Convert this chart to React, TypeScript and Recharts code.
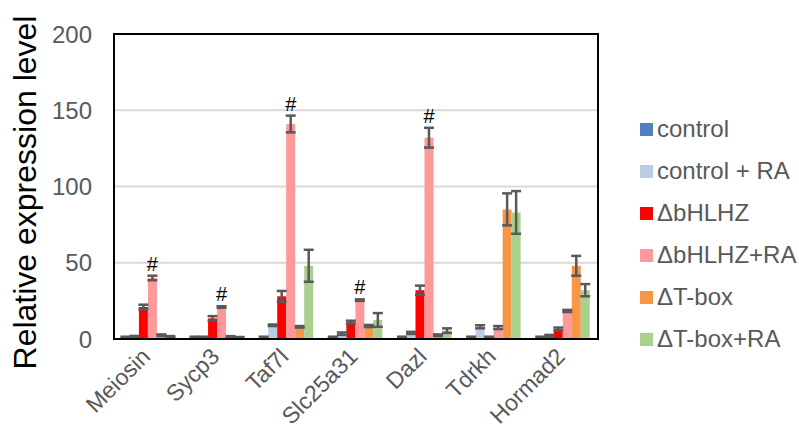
import {
  BarChart,
  Bar,
  XAxis,
  YAxis,
  CartesianGrid,
  ErrorBar,
  LabelList,
  ReferenceArea,
} from "recharts";

const genes = ["Meiosin", "Sycp3", "Taf7l", "Slc25a31", "Dazl", "Tdrkh", "Hormad2"];

// mean expression per condition, one value per gene
const control = [1, 1, 1, 1, 1, 1, 1];
const controlRA = [1.5, 1, 9, 3.5, 4, 8, 2];
const bhlhz = [21, 13.5, 28, 11, 32, 1, 6.5];
const bhlhzRA = [40, 21, 141, 25.5, 132, 7.5, 18.4];
const tbox = [2.5, 1.5, 8, 8.5, 2.5, 85, 48];
const tboxRA = [1.5, 1, 48, 12.5, 5.5, 83, 32];

// error (SD) per condition
const controlErr = [0.5, 0.5, 0.5, 0.5, 0.5, 0.5, 0.5];
const controlRAErr = [0.5, 0.5, 0.5, 0.8, 0.7, 1, 0.7];
const bhlhzErr = [1.5, 1.5, 3.5, 1, 3, 0.5, 1];
const bhlhzRAErr = [1.5, 0.5, 5.5, 0.5, 6.5, 1, 0.7];
const tboxErr = [0.5, 0.4, 0.5, 0.7, 0.5, 10.5, 6.5];
const tboxRAErr = [0.4, 0.3, 10.5, 4.5, 1.5, 14, 4];

// "#" marks on the ΔbHLHZ+RA bars
const significant = [true, true, true, true, true, false, false];

const yTicks = [0, 50, 100, 150, 200];

const series = [
  { key: "control", name: "control", color: "#4f81bd" },
  { key: "controlRA", name: "control + RA", color: "#b9cde5" },
  { key: "bhlhz", name: "ΔbHLHZ", color: "#ff0000" },
  { key: "bhlhzRA", name: "ΔbHLHZ+RA", color: "#ff9999" },
  { key: "tbox", name: "ΔT-box", color: "#f79646" },
  { key: "tboxRA", name: "ΔT-box+RA", color: "#a9d18e" },
];

const data = genes.map((gene, i) => ({
  gene,
  control: control[i],
  controlErr: controlErr[i],
  controlRA: controlRA[i],
  controlRAErr: controlRAErr[i],
  bhlhz: bhlhz[i],
  bhlhzErr: bhlhzErr[i],
  bhlhzRA: bhlhzRA[i],
  bhlhzRAErr: bhlhzRAErr[i],
  tbox: tbox[i],
  tboxErr: tboxErr[i],
  tboxRA: tboxRA[i],
  tboxRAErr: tboxRAErr[i],
}));

const FONT = "'Liberation Sans', Arial, sans-serif";
const GREY = "#595959";

function GeneTick(props: any) {
  const { x, y, payload } = props;
  const tx = x + 3;
  const ty = y + 11;
  return (
    <text
      x={tx}
      y={ty}
      transform={`rotate(-45, ${tx}, ${ty})`}
      textAnchor="end"
      fill={GREY}
      fontSize={23}
      fontFamily={FONT}
    >
      {payload.value}
    </text>
  );
}

function SigMark(props: any) {
  const { x, y, width, height, value, index } = props;
  if (!significant[index] || !value) return null;
  const err = bhlhzRAErr[index];
  const capY = y - (err * height) / value;
  return (
    <text
      x={x + width / 2}
      y={capY - 5}
      textAnchor="middle"
      fill="#000"
      fontSize={20}
      fontFamily={FONT}
    >
      #
    </text>
  );
}

function YTitle(props: any) {
  const { viewBox } = props;
  const cx = viewBox.x - 29;
  const cy = viewBox.y + viewBox.height / 2 + 6;
  return (
    <text
      x={cx}
      y={cy}
      transform={`rotate(-90, ${cx}, ${cy})`}
      textAnchor="middle"
      dominantBaseline="central"
      fill="#000"
      fontSize={32}
      fontFamily={FONT}
    >
      Relative expression level
    </text>
  );
}

function LegendList() {
  return (
    <div style={{ fontFamily: FONT }}>
      {series.map((s) => (
        <div
          key={s.key}
          style={{ display: "flex", alignItems: "center", height: 42 }}
        >
          <span
            style={{
              display: "inline-block",
              width: 13,
              height: 13,
              background: s.color,
              marginRight: 4,
            }}
          />
          <span style={{ fontSize: 24, color: GREY, whiteSpace: "pre" }}>
            {s.name}
          </span>
        </div>
      ))}
    </div>
  );
}

export default function App() {
  return (
    <div
      style={{
        position: "absolute",
        left: 0,
        top: 0,
        width: 799,
        height: 439,
        background: "#fff",
      }}
    >
      <BarChart
        width={799}
        height={439}
        data={data}
        margin={{ top: 34, right: 201, bottom: 10, left: 54 }}
        barGap={0}
        barCategoryGap="10%"
      >
        <CartesianGrid vertical={false} stroke="#d9d9d9" strokeWidth={2} />
        <XAxis
          dataKey="gene"
          height={90}
          tickLine={false}
          axisLine={{ stroke: "#000", strokeWidth: 2 }}
          tick={<GeneTick />}
          interval={0}
        />
        <YAxis
          width={60}
          domain={[0, 200]}
          ticks={yTicks}
          tickLine={false}
          tickSize={0}
          tickMargin={22}
          axisLine={{ stroke: "#000", strokeWidth: 2 }}
          tick={{ fill: GREY, fontSize: 24, fontFamily: FONT }}
          label={<YTitle />}
        />
        {series.map((s) => (
          <Bar
            key={s.key}
            dataKey={s.key}
            name={s.name}
            fill={s.color}
            isAnimationActive={false}
          >
            <ErrorBar
              dataKey={`${s.key}Err`}
              width={5}
              stroke={GREY}
              strokeWidth={2.5}
            />
            {s.key === "bhlhzRA" && <LabelList content={<SigMark />} />}
          </Bar>
        ))}
        <ReferenceArea
          y1={0}
          y2={200}
          fill="none"
          stroke="#000"
          strokeWidth={2}
          ifOverflow="visible"
        />
      </BarChart>
      <div style={{ position: "absolute", left: 640, top: 108 }}>
        <LegendList />
      </div>
    </div>
  );
}
